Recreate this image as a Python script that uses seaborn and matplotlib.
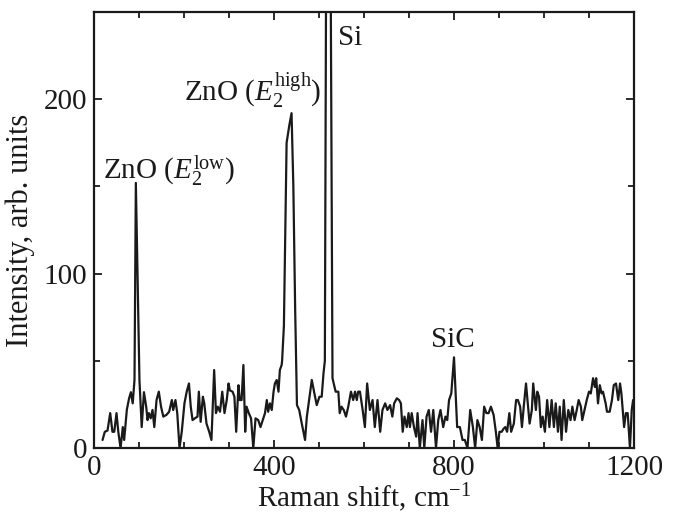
import numpy as np
import pandas as pd
import seaborn as sns
import matplotlib
matplotlib.use("Agg")
import matplotlib.pyplot as plt
from matplotlib.ticker import MultipleLocator

# Raman shift (cm^-1) and intensity
shift = [19, 24, 30, 36, 41, 45, 50, 54, 59, 64, 67, 73, 78, 82, 86, 90, 93, 101, 106,
         111, 116, 119, 122, 126, 130, 134, 139, 144, 149, 154, 161, 167, 173, 176, 181,
         185, 190, 195, 201, 206, 211, 215, 219, 224, 230, 233, 237, 242, 245, 250, 256,
         261, 267, 271, 275, 280, 285, 290, 295, 299, 302, 308, 312, 316, 321, 324, 328,
         332, 336, 339, 344, 349, 354, 359, 365, 370, 375, 380, 384, 387, 391, 395, 399,
         402, 406, 410, 413, 417, 418, 422, 428, 434, 439, 443, 447, 451, 456, 461, 469,
         473, 478, 484, 489, 495, 501, 506, 510, 513, 520, 530, 537, 543, 546, 550, 555,
         560, 565, 571, 576, 580, 584, 587, 591, 597, 602, 607, 613, 619, 624, 630, 636,
         641, 647, 652, 658, 663, 667, 673, 678, 682, 686, 690, 695, 699, 702, 706, 711,
         716, 719, 724, 730, 734, 739, 744, 749, 754, 760, 765, 770, 776, 781, 785, 789,
         794, 800, 807, 813, 819, 824, 830, 836, 842, 847, 852, 857, 862, 867, 872, 877,
         882, 888, 893, 897, 901, 906, 910, 914, 918, 923, 927, 933, 938, 942, 947, 951,
         955, 960, 964, 968, 973, 976, 982, 985, 989, 993, 997, 1002, 1007, 1012, 1017,
         1022, 1026, 1031, 1035, 1039, 1044, 1049, 1054, 1059, 1063, 1068, 1072, 1077,
         1082, 1085, 1090, 1095, 1100, 1104, 1109, 1113, 1116, 1120, 1124, 1128, 1131,
         1137, 1140, 1146, 1151, 1155, 1160, 1165, 1169, 1172, 1178, 1182, 1186, 1191,
         1195, 1198, 1200]
intensity = [4.6, 9.3, 10, 20, 9.3, 9.3, 20, 9.3, 0, 12, 4.6, 22, 28.5, 32, 25.6, 39, 152, 39, 12,
             32, 23.7, 16, 20, 17, 21.8, 12, 27.5, 32.3, 23.7, 18, 19, 20.8, 27.5, 21.8, 27.5,
             20, 0, 9.3, 25.6, 32.3, 37, 23.7, 16, 17, 18, 32.3, 15, 29.4, 25.6, 14, 9.3,
             4.6, 44.7, 20, 23.7, 20.8, 32.3, 20, 27.5, 37, 33, 32.3, 29.4, 9.3, 36, 27.5, 27.5,
             47.6, 9.3, 23.7, 20, 17, 0, 17, 16, 12, 16, 20, 27.5, 20.8, 25.6, 21.8, 32.3,
             37, 39, 32.3, 44.7, 47.6, 50, 70, 175, 185, 192, 150, 80, 24.6, 21.8, 15, 4.6,
             18, 27.5, 39, 32.3, 24.6, 29.4, 29.4, 42.8, 50, 610, 40, 32.3, 32.3, 20, 23.7, 21.8,
             18, 23.7, 32.3, 27.5, 32.3, 27.5, 32.3, 32.3, 21.8, 12, 37, 21.8, 27.5, 12, 27.5, 9.3,
             21.8, 25.6, 21.8, 24.6, 18, 25.6, 28.5, 27.5, 25.6, 9.3, 18, 12, 20, 12, 20, 12,
             6.5, 20, 0, 16, 0, 18, 21.8, 9.3, 21.8, 0, 16, 21.8, 12, 18, 16, 27.5,
             31.3, 52, 12, 12, 4.6, 4.6, 0, 21.8, 12, 0, 16, 12, 4.6, 23.7, 20, 20,
             23.7, 19, 9.3, 0, 9.3, 9.3, 11, 12, 9.3, 20, 9.3, 14, 27.5, 27.5, 23.7, 12,
             23.7, 37, 25.6, 14, 21.8, 37, 21.8, 32.3, 29.4, 12, 18, 9.3, 27.5, 12, 27.5,
             12, 25.6, 9.3, 23.7, 4.6, 27.5, 9.3, 21.8, 16, 23.7, 16, 20.8, 27.5,
             23.7, 16, 21.8, 27.5, 32.3, 31.3, 40, 35, 40, 25.6, 36, 31.3, 32.3,
             25.6, 20.8, 20.8, 27.5, 36, 37, 27.5, 37, 31.3, 12, 20, 20, 0,
             21.8, 27.5, 27.5]

peak_labels = [r"ZnO ($E_2^{\mathrm{low}}$)", r"ZnO ($E_2^{\mathrm{high}}$)", "Si", "SiC"]
label_x = [166, 353, 569, 797]
label_y = [159, 205, 235, 62]

df = pd.DataFrame({"shift": shift, "intensity": intensity})

sns.set_style("ticks")
plt.rcParams["font.family"] = ["Liberation Serif", "DejaVu Serif"]
plt.rcParams["mathtext.fontset"] = "custom"
plt.rcParams["mathtext.rm"] = "Liberation Serif"
plt.rcParams["mathtext.it"] = "Liberation Serif:italic"

fig = plt.figure(figsize=(6.78, 5.14), dpi=100)
ax = fig.add_axes([94 / 678, 1 - 448 / 514, 540 / 678, 436 / 514])

sns.lineplot(data=df, x="shift", y="intensity", ax=ax, color="#1a1a1a",
             linewidth=1.6, estimator=None, sort=False)

ax.set_xlim(0, 1200)
ax.set_ylim(0, 250)
ax.xaxis.set_major_locator(MultipleLocator(400))
ax.xaxis.set_minor_locator(MultipleLocator(100))
ax.yaxis.set_major_locator(MultipleLocator(100))
ax.yaxis.set_minor_locator(MultipleLocator(50))
ax.tick_params(which="both", direction="in", top=True, right=True, width=1.3,
               labelsize=21, colors="#1a1a1a", pad=5)
ax.tick_params(which="major", length=6)
ax.tick_params(which="minor", length=4)
for s in ax.spines.values():
    s.set_linewidth(1.6)
    s.set_color("#1a1a1a")

ax.set_xlabel(r"Raman shift, cm$^{-1}$", fontsize=21, color="#1a1a1a", labelpad=0)
ax.set_ylabel("Intensity, arb. units", fontsize=22, color="#1a1a1a", labelpad=6)

for t, x, y in zip(peak_labels, label_x, label_y):
    ax.text(x, y, t, fontsize=21, ha="center", va="center", color="#1a1a1a")

fig.savefig("out.png", dpi=100)
